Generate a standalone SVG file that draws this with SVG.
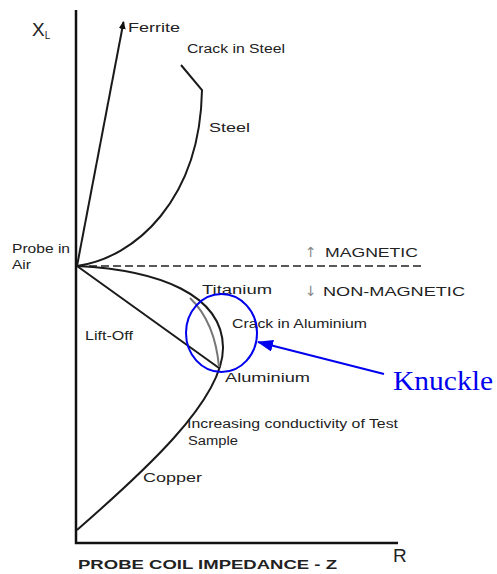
<svg xmlns="http://www.w3.org/2000/svg" width="497" height="574" viewBox="0 0 497 574">
<defs>
<style>
.lbl{font-family:"Liberation Sans",Arial,sans-serif;font-size:12.5px;fill:#222}
.arr{font-family:"DejaVu Sans",sans-serif;font-size:14px;fill:#888}
.crv{fill:none;stroke:#1a1a1a;stroke-width:2}
.ax{fill:none;stroke:#111;stroke-width:2.5}
</style>
<marker id="ferr" markerWidth="8" markerHeight="8" refX="7" refY="4" orient="auto" markerUnits="userSpaceOnUse">
<path d="M0,0.5 L8,4 L0,7.5 Z" fill="#111"/>
</marker>
<marker id="blu" markerWidth="16" markerHeight="12" refX="15" refY="6" orient="auto" markerUnits="userSpaceOnUse">
<path d="M0,0 L16,6 L0,12 Z" fill="#0000ee"/>
</marker>
</defs>
<rect width="497" height="574" fill="#fff"/>
<g id="axes">
<path class="ax" d="M76,10 L76,543 L398,543"/>
<text x="32" y="36" style="font-family:'Liberation Sans',Arial,sans-serif;font-size:19px;fill:#222">X<tspan font-size="10" dy="3">L</tspan></text>
<text x="393" y="562" style="font-family:'Liberation Sans',Arial,sans-serif;font-size:19px;fill:#222">R</text>
<text x="78" y="569" style="font-family:'Liberation Sans',Arial,sans-serif;font-size:12px;font-weight:bold;fill:#222" textLength="259" lengthAdjust="spacingAndGlyphs">PROBE COIL IMPEDANCE - Z</text>
</g>
<g id="connectors">
<path class="crv" d="M77,266 L123.5,22" marker-end="url(#ferr)"/>
<path class="crv" d="M77,266 C135,258 200,200 202,90 L181,65"/>
<path d="M77,266 L425,266" fill="none" stroke="#222" stroke-width="1.5" stroke-dasharray="8,4"/>
<path class="crv" d="M77,266 C160,270 222,295 223,347 C224,400 140,475 77,530"/>
<path class="crv" d="M77,266 L219,368"/>
<path d="M190,298 Q215,322 219,367" fill="none" stroke="#777" stroke-width="2"/>
</g>
<g id="labels">
<text class="lbl" x="128" y="32" textLength="52" lengthAdjust="spacingAndGlyphs">Ferrite</text>
<text class="lbl" x="187" y="53" textLength="98" lengthAdjust="spacingAndGlyphs">Crack in Steel</text>
<text class="lbl" x="209" y="132" textLength="41" lengthAdjust="spacingAndGlyphs">Steel</text>
<text class="lbl" x="12" y="253" textLength="58" lengthAdjust="spacingAndGlyphs">Probe in</text>
<text class="lbl" x="12" y="269" textLength="19" lengthAdjust="spacingAndGlyphs">Air</text>
<text class="lbl" x="85" y="340" textLength="48" lengthAdjust="spacingAndGlyphs">Lift-Off</text>
<text class="lbl" x="202" y="294" textLength="70" lengthAdjust="spacingAndGlyphs">Titanium</text>
<text class="lbl" x="232" y="328" textLength="135" lengthAdjust="spacingAndGlyphs">Crack in Aluminium</text>
<text class="lbl" x="225" y="382" textLength="85" lengthAdjust="spacingAndGlyphs">Aluminium</text>
<text class="lbl" x="187" y="428" textLength="211" lengthAdjust="spacingAndGlyphs">Increasing conductivity of Test</text>
<text class="lbl" x="188" y="445" textLength="50" lengthAdjust="spacingAndGlyphs">Sample</text>
<text class="lbl" x="143" y="482" textLength="59" lengthAdjust="spacingAndGlyphs">Copper</text>
<text class="arr" x="305" y="257">↑</text>
<text class="lbl" x="325" y="257" textLength="93" lengthAdjust="spacingAndGlyphs">MAGNETIC</text>
<text class="arr" x="305" y="296">↓</text>
<text class="lbl" x="323" y="296" textLength="142" lengthAdjust="spacingAndGlyphs">NON-MAGNETIC</text>
</g>
<g id="knuckle">
<ellipse cx="221.5" cy="333" rx="35.5" ry="39" fill="none" stroke="#0000ee" stroke-width="2"/>
<path d="M384,374 L258,342" fill="none" stroke="#0000ee" stroke-width="2" marker-end="url(#blu)"/>
<text x="393" y="390" style="font-family:'Liberation Serif','Times New Roman',serif;font-size:27px;fill:#0000ee" textLength="100" lengthAdjust="spacingAndGlyphs">Knuckle</text>
</g>
</svg>
